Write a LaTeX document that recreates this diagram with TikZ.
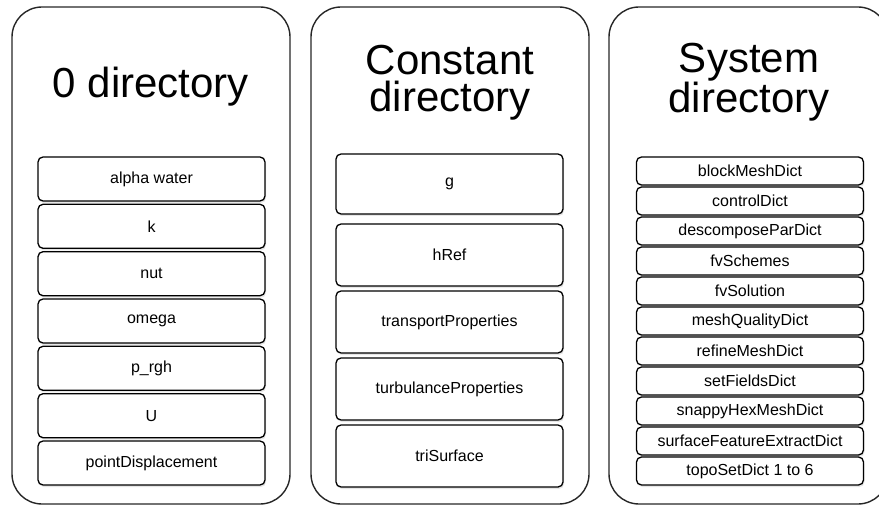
\documentclass[tikz,border=0pt]{standalone}
\usepackage{fontspec}
\setmainfont{Liberation Sans}
\usetikzlibrary{shadows}

\begin{document}
\begin{tikzpicture}[x=1pt, y=-1pt,
  panel/.style={draw=black!85, line width=1.4pt, rounded corners=30pt},
  title/.style={font=\fontsize{42}{37}\selectfont, align=center, inner sep=0pt},
  file/.style={draw, fill=white, line width=1.3pt, rounded corners=5pt,
    minimum width=227pt, inner sep=0pt, font=\fontsize{16}{18}\selectfont,
    drop shadow={opacity=0.2, shadow xshift=1pt, shadow yshift=-2pt}},
  zerofile/.style={file, minimum height=44pt},
  constfile/.style={file, minimum height=62pt},
  sysfile/.style={file, minimum height=28pt}]
  \useasboundingbox (0,0) rectangle (879,508);
  \clip (0,0) rectangle (879,508);

  % the three folders
  \draw[panel] (12,7) rectangle (290,504);
  \draw[panel] (311,7) rectangle (589,504);
  \draw[panel] (609,7) rectangle (888,504);
  \node[title] (zerotitle) at (151,87) {0 directory};
  \node[title] (consttitle) at (450,82.5) {Constant\\directory};
  \node[title] (systitle) at (749,82.5) {System\\directory};

  % 0 directory
  \node[zerofile] (alpha) at (151.5,179) {alpha water};
  \node[zerofile] (k) at (151.5,226.3) {k};
  \node[zerofile] (nut) at (151.5,273.7) {nut};
  \node[zerofile] (omega) at (151.5,321) {omega};
  \node[zerofile] (prgh) at (151.5,368.3) {p\_rgh};
  \node[zerofile] (U) at (151.5,415.7) {U};
  \node[zerofile] (pdisp) at (151.5,463) {pointDisplacement};

  % constant directory
  \node[constfile, minimum height=60pt] (g) at (449.5,184) {g};
  \node[constfile] (href) at (449.5,255) {hRef};
  \node[constfile] (transp) at (449.5,322) {transportProperties};
  \node[constfile] (turb) at (449.5,389) {turbulanceProperties};
  \node[constfile] (trisurf) at (449.5,456) {triSurface};

  % system directory
  \node[sysfile] (block) at (750,171) {blockMeshDict};
  \node[sysfile] (control) at (750,201) {controlDict};
  \node[sysfile] (decomp) at (750,231) {descomposeParDict};
  \node[sysfile] (schemes) at (750,261) {fvSchemes};
  \node[sysfile] (solution) at (750,291) {fvSolution};
  \node[sysfile] (quality) at (750,321) {meshQualityDict};
  \node[sysfile] (refine) at (750,351) {refineMeshDict};
  \node[sysfile] (setfields) at (750,381) {setFieldsDict};
  \node[sysfile] (snappy) at (750,411) {snappyHexMeshDict};
  \node[sysfile] (surface) at (750,441) {surfaceFeatureExtractDict};
  \node[sysfile] (topo) at (750,471) {topoSetDict 1 to 6};
\end{tikzpicture}
\end{document}
